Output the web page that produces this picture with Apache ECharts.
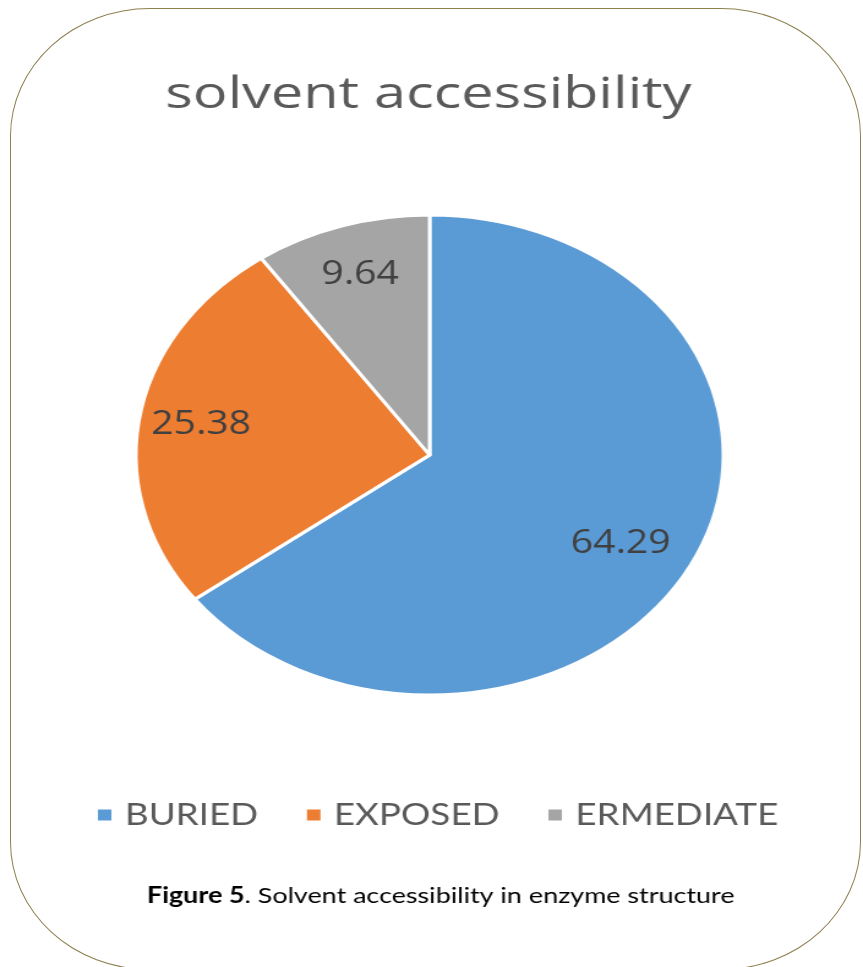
<!DOCTYPE html>
<html>
<head>
<meta charset="utf-8">
<script src="https://cdn.jsdelivr.net/npm/echarts@6/dist/echarts.min.js"></script>
<style>
  html, body { margin: 0; padding: 0; background: #fff; overflow: hidden; }
  #page { position: relative; width: 863px; height: 967px; overflow: hidden; }
  #frame {
    position: absolute; left: 10px; top: 8px; width: 851px; height: 962px;
    border: 1.5px solid #8d8150; border-radius: 140px / 128px; box-sizing: border-box;
  }
  /* the chart is laid out in a narrower box and widened to the page width */
  #chart {
    position: absolute; left: 0; top: 0; width: 705px; height: 967px;
    transform: scaleX(1.2241); transform-origin: 0 0;
  }
</style>
</head>
<body>
<div id="page">
  <div id="frame"></div>
  <div id="chart"></div>
</div>
<script>
const titleText = 'solvent accessibility';
const categories = ['BURIED', 'EXPOSED', 'ERMEDIATE'];
const values = [64.29, 25.38, 9.64];
const colors = ['#5B9BD5', '#ED7D31', '#A5A5A5'];
const captionBold = 'Figure 5';
const captionRest = '. Solvent accessibility in enzyme structure';

const TITLE_FONT = '"Open Sans", Lato, sans-serif';
const FONT = 'Lato, "Open Sans", sans-serif';
const CX = 351, CY = 455, R = 240;

const sliceData = categories.map((name, i) => ({
  name: name,
  value: values[i],
  itemStyle: { color: colors[i] }
}));

// transparent ring used only to place the value labels nearer the rim
const labelData = categories.map((name, i) => ({
  name: name,
  value: values[i],
  itemStyle: { color: 'rgba(0,0,0,0)' }
}));

const chart = echarts.init(document.getElementById('chart'), null, { renderer: 'canvas' });

chart.setOption({
  animation: false,
  backgroundColor: 'transparent',
  legend: {
    left: 78,
    top: 800,
    padding: 0,
    itemGap: 38,
    itemWidth: 13,
    itemHeight: 13,
    icon: 'rect',
    selectedMode: false,
    data: categories.map((name, i) => ({ name: name, itemStyle: { color: colors[i] } })),
    textStyle: {
      fontFamily: FONT,
      fontSize: 30,
      color: '#595959',
      padding: [0, 0, 0, 5]
    }
  },
  series: [
    {
      type: 'pie',
      center: [CX, CY],
      radius: R,
      startAngle: 90,
      clockwise: true,
      silent: true,
      label: { show: false },
      labelLine: { show: false },
      itemStyle: { borderColor: '#ffffff', borderWidth: 3 },
      data: sliceData
    },
    {
      type: 'pie',
      center: [CX, CY],
      radius: [132, R],
      startAngle: 90,
      clockwise: true,
      silent: true,
      labelLine: { show: false },
      label: {
        show: true,
        position: 'inside',
        formatter: p => String(p.value),
        fontFamily: TITLE_FONT,
        fontSize: 32,
        color: '#404040'
      },
      // the large slice's label sits a little further in
      labelLayout: p => (p.dataIndex === 0 ? { dx: -13, dy: 4 } : {}),
      data: labelData
    }
  ],
  graphic: [
    {
      type: 'text',
      x: 350,
      y: 95,
      scaleX: 1.07,
      style: {
        text: titleText,
        align: 'center',
        verticalAlign: 'middle',
        fontFamily: TITLE_FONT,
        fontSize: 44,
        fill: '#595959'
      }
    },
    {
      type: 'text',
      x: 360,
      y: 896,
      style: {
        text: '{b|' + captionBold + '}' + captionRest,
        align: 'center',
        verticalAlign: 'middle',
        fontFamily: FONT,
        fontSize: 22,
        fill: '#000000',
        rich: {
          b: { fontFamily: FONT, fontSize: 22, fontWeight: 'bold', fill: '#000000' }
        }
      }
    }
  ]
});
</script>
</body>
</html>
